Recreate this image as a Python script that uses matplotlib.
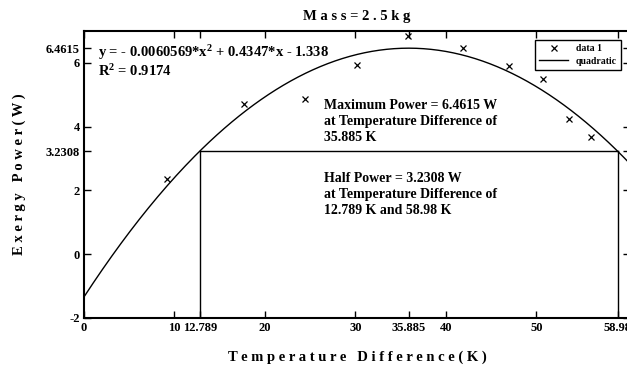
import numpy as np
import matplotlib
matplotlib.use("Agg")
import matplotlib.pyplot as plt

# measured data points (temperature difference K, exergy power W)
temp_diff = [9.2, 17.7, 24.4, 30.2, 35.8, 41.9, 47.0, 50.7, 53.6, 56.0]
power = [2.35, 4.72, 4.87, 5.94, 6.84, 6.47, 5.91, 5.50, 4.25, 3.69]

# quadratic fit coefficients
fit_coef = [-0.0060569, 0.4347, -1.338]

p_max = 6.4615
t_max = 35.885
p_half = 3.2308
t_half = [12.789, 58.98]

x_ticks = [0, 10, 12.789, 20, 30, 35.885, 40, 50, 58.98]
x_tick_labels = ["0", "10", "12.789", "20", "30", "35.885", "40", "50", "58.98"]
y_ticks = [-2, 0, 2, 3.2308, 4, 6, 6.4615]
y_tick_labels = ["-2", "0", "2", "3.2308", "4", "6", "6.4615"]

plt.rcParams["font.family"] = ["Liberation Serif", "DejaVu Serif"]
plt.rcParams["font.weight"] = "bold"
plt.rcParams["mathtext.fontset"] = "custom"
plt.rcParams["mathtext.rm"] = "Liberation Serif:bold"
plt.rcParams["mathtext.it"] = "Liberation Serif:bold"
plt.rcParams["mathtext.bf"] = "Liberation Serif:bold"

fig = plt.figure(figsize=(6.27, 3.67), dpi=100)
# right spine sits just past the image edge, as in the reference crop
ax = fig.add_axes([84 / 627, 1 - 318 / 367, 546 / 627, (318 - 31) / 367])

xs = np.linspace(0, 61, 300)
ax.plot(temp_diff, power, "x", color="black", ms=5, mew=0.9, label="data 1")
ax.plot(xs, np.polyval(fit_coef, xs), color="black", lw=1, label="quadratic")

# half power guide lines
ax.plot([t_half[0], t_half[1]], [p_half, p_half], color="black", lw=1)
ax.plot([t_half[0], t_half[0]], [-2, p_half], color="black", lw=1)
ax.plot([t_half[1], t_half[1]], [-2, p_half], color="black", lw=1)

ax.set_xlim(0, 60.35)
ax.set_ylim(-2, 7)
ax.set_xticks(x_ticks)
ax.set_xticklabels(x_tick_labels)
ax.set_yticks(y_ticks)
ax.set_yticklabels(y_tick_labels)
ax.tick_params(direction="in", top=True, right=True, length=5, width=1,
               labelsize=9, pad=3)
for lbl in ax.get_xticklabels() + ax.get_yticklabels():
    lbl.set_fontweight("bold")
for sp in ax.spines.values():
    sp.set_linewidth(1.5)

ax.set_title("M a s s = 2 . 5 k g", fontsize=10.5, fontweight="bold", pad=8)
ax.set_xlabel("T e m p e r a t u r e   D i f f e r e n c e ( K )",
              fontsize=10.5, fontweight="bold", labelpad=12)
ax.set_ylabel("E x e r g y   P o w e r ( W )",
              fontsize=10.5, fontweight="bold", labelpad=14)

ax.text(1.5, 6.62, "y = - 0.0060569*x$^2$ + 0.4347*x - 1.338\nR$^2$ = 0.9174",
        fontsize=10.5, fontweight="bold", va="top", linespacing=1.1)
ax.text(26.5, 4.88,
        f"Maximum Power = {p_max} W\nat Temperature Difference of\n{t_max} K",
        fontsize=10, fontweight="bold", va="top", linespacing=1.3)
ax.text(26.5, 2.58,
        f"Half Power = {p_half} W\nat Temperature Difference of\n"
        f"{t_half[0]} K and {t_half[1]} K",
        fontsize=10, fontweight="bold", va="top", linespacing=1.3)

leg = ax.legend(loc="upper right", fontsize=7, fancybox=False, framealpha=1,
                edgecolor="black", borderaxespad=0.9, handlelength=3,
                borderpad=0.45, labelspacing=0.35)
leg.get_frame().set_linewidth(1)
for t in leg.get_texts():
    t.set_fontweight("bold")

fig.savefig("out.png", dpi=100)
